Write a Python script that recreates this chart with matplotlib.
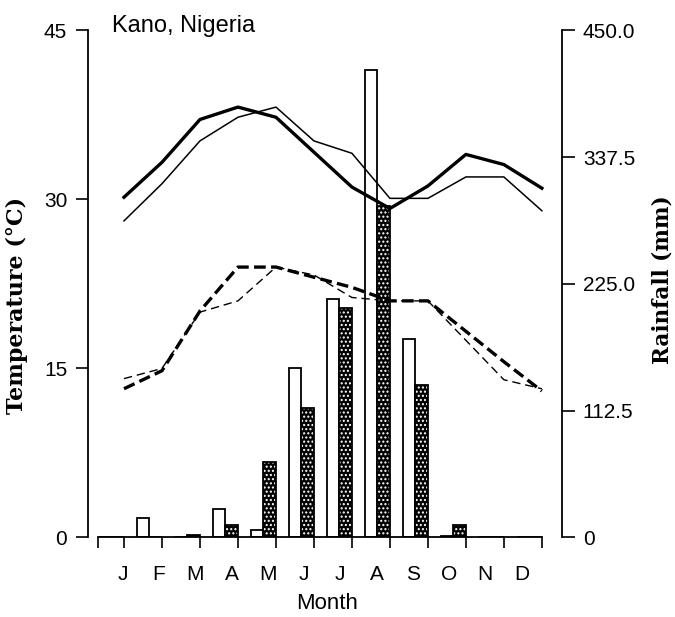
import numpy as np
import matplotlib.pyplot as plt

plt.rcParams['font.family'] = ['Liberation Sans', 'DejaVu Sans']
plt.rcParams['hatch.linewidth'] = 1.0

# monthly climate data, Kano
months = np.arange(1, 13)
month_labels = ['J', 'F', 'M', 'A', 'M', 'J', 'J', 'A', 'S', 'O', 'N', 'D']

# temperatures (deg C)
tmax_a = [30.2, 33.3, 37.1, 38.2, 37.3, 34.2, 31.1, 29.2, 31.2, 34.0, 33.1, 31.0]
tmax_b = [28.1, 31.4, 35.2, 37.3, 38.2, 35.2, 34.1, 30.1, 30.1, 32.0, 32.0, 29.0]
tmin_a = [13.2, 14.8, 20.1, 24.0, 24.0, 23.1, 22.2, 21.0, 21.0, 18.3, 15.6, 13.0]
tmin_b = [14.1, 15.0, 20.0, 21.0, 24.0, 23.3, 21.3, 21.0, 21.0, 17.5, 14.0, 13.2]

# rainfall (mm)
rain_open = [0, 17, 0, 25, 7, 150, 212, 415, 176, 1, 0, 0]
rain_shaded = [0, 0, 2, 11.5, 67, 115, 204, 294, 135, 11.5, 0, 0]

rain_ticks = [0, 112.5, 225, 337.5, 450]
rain_ticklabels = ['0', '112.5', '225.0', '337.5', '450.0']

fig = plt.figure(figsize=(6.75, 6.17), dpi=100)
ax = fig.add_axes([0.1304, 0.1289, 0.7022, 0.8217])
ax2 = ax.twinx()

# rainfall bars, open bar then shaded bar to the left of each month
bw = 1 / 3
ax2.bar(months - 0.5, rain_open, width=bw, color='white', edgecolor='black', linewidth=1.3)
ax2.bar(months - bw / 2, rain_shaded, width=bw, color='black', edgecolor='white',
        hatch='....', linewidth=0)
ax2.bar(months - bw / 2, rain_shaded, width=bw, fill=False, edgecolor='black', linewidth=1.3)

# temperature lines on top of the bars
ax.set_zorder(ax2.get_zorder() + 1)
ax.patch.set_visible(False)
ax.plot(months, tmax_a, color='black', lw=2.4)
ax.plot(months, tmax_b, color='black', lw=1.1)
ax.plot(months, tmin_a, color='black', lw=2.4, ls=(0, (3.5, 1.6)))
ax.plot(months, tmin_b, color='black', lw=1.0, ls=(0, (6, 3.5)))

ax.set_xlim(0.053, 12.53)
ax.set_ylim(0, 45)
ax2.set_ylim(0, 450)

ax.set_yticks([0, 15, 30, 45])
ax2.set_yticks(rain_ticks, labels=rain_ticklabels)

ax.set_xticks(np.r_[0.316, months], labels=[''] * 13)
ax.set_xticks(np.linspace(0.97, 11.46, 12), labels=month_labels, minor=True)

ax.tick_params(axis='y', direction='out', length=9, width=1.2, pad=6, labelsize=15)
ax2.tick_params(axis='y', direction='out', length=9, width=1.2, pad=6, labelsize=15)
ax.tick_params(axis='x', which='major', direction='out', length=8, width=1.2)
ax.tick_params(axis='x', which='minor', length=0, pad=20, labelsize=15)

for s in ['top', 'right']:
    ax.spines[s].set_visible(False)
for s in ['top', 'left', 'bottom']:
    ax2.spines[s].set_visible(False)
ax.spines['bottom'].set_bounds(0.316, 12)
for sp in [ax.spines['left'], ax.spines['bottom'], ax2.spines['right']]:
    sp.set_linewidth(1.3)

fig.text(112 / 675, 1 - 32 / 617, 'Kano, Nigeria', ha='left', va='baseline', fontsize=17)
fig.text(327 / 675, 1 - 614 / 617, 'Month', ha='center', va='bottom', fontsize=16)
fig.text(17 / 675, 1 - 305 / 617, 'Temperature (°C)', rotation=90, ha='center', va='center',
         family='DejaVu Serif', weight='bold', fontsize=16)
fig.text(662 / 675, 1 - 280 / 617, 'Rainfall (mm)', rotation=90, ha='center', va='center',
         family='DejaVu Serif', weight='bold', fontsize=15.5)

fig.savefig('out.png', dpi=100)
